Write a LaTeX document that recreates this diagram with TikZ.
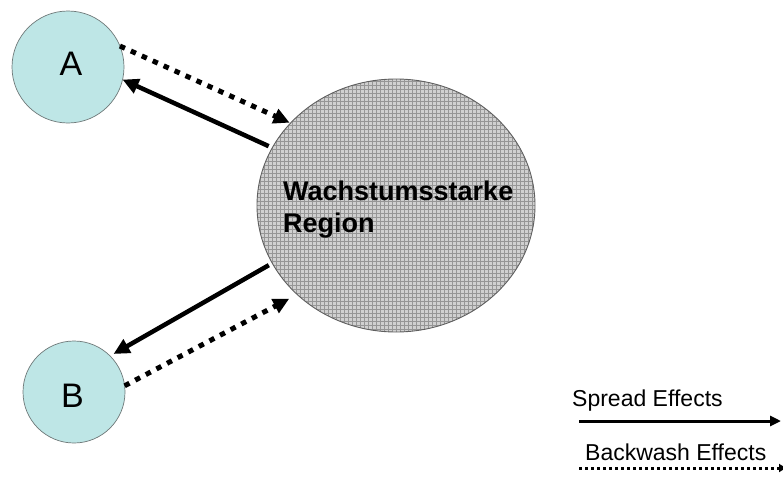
\documentclass[tikz,border=0pt]{standalone}
\usepackage{fontspec}
\setmainfont{Liberation Sans}
\usetikzlibrary{arrows.meta,shapes.geometric}

\definecolor{cityfill}{RGB}{190,230,230}
\definecolor{cityline}{RGB}{110,120,120}
\definecolor{hubfill}{RGB}{208,208,208}
\definecolor{hubgrid}{RGB}{150,150,150}
\definecolor{hubline}{RGB}{95,95,95}

\tikzset{
  city/.style={circle, draw=cityline, line width=0.7pt, fill=cityfill,
    inner sep=0pt, outer sep=0pt},
  citylabel/.style={inner sep=0pt, anchor=base, font=\fontsize{34}{40}\selectfont},
  hub/.style={ellipse, draw=hubline, line width=0.9pt, fill=hubfill,
    inner sep=0pt, outer sep=0pt,
    path picture={\draw[hubgrid, line width=0.65pt]
      (path picture bounding box.south west)
      grid[xstep=4pt, ystep=4pt] (path picture bounding box.north east);}},
  hublabel/.style={inner sep=0pt, anchor=base west,
    font=\fontsize{27}{32}\selectfont\bfseries},
  legendlabel/.style={inner sep=0pt, anchor=base west,
    font=\fontsize{23}{28}\selectfont},
  spread/.style={line width=4.5pt, -{Triangle[length=16pt,width=15pt]}},
  backwash/.style={line width=5pt, dash pattern=on 5.5pt off 6.5pt,
    -{Triangle[length=16pt,width=15pt]}},
  spreadkey/.style={line width=3pt, -{Triangle[length=11pt,width=10pt]}},
  backwashkey/.style={line width=3pt, dash pattern=on 3pt off 3pt,
    -{Triangle[length=7pt,width=8pt]}},
}

\begin{document}
\begin{tikzpicture}[x=1pt, y=-1pt]
  \useasboundingbox (0,0) rectangle (783,479);

  % regions
  \node[city, minimum size=112pt] (A) at (68,67) {};
  \node[city, minimum size=102pt] (B) at (74,392) {};
  \node[hub, minimum width=278pt, minimum height=253pt] (R) at (396,205.5) {};

  \node[citylabel] (Alabel) at (71,75) {A};
  \node[citylabel] (Blabel) at (72.5,407) {B};
  \node[hublabel] (Rline1) at (283,200) {Wachstumsstarke};
  \node[hublabel] (Rline2) at (283,232) {Region};

  % effects between the regions
  \draw[backwash, shorten >=1pt] (A.22) -- (R.142.5);
  \draw[spread, shorten <=4pt] (R.155) -- (A.-13);
  \draw[spread, shorten <=4pt, shorten >=4pt] (R.205) -- (B.45);
  \draw[backwash, shorten >=9pt] (B.7) -- (R.222);

  % legend
  \node[legendlabel] (spreadtext) at (572,406) {Spread Effects};
  \node[legendlabel] (backwashtext) at (585,460) {Backwash Effects};
  \coordinate (s1) at (579,421);
  \coordinate (s2) at (781,421);
  \coordinate (b1) at (579,468);
  \coordinate (b2) at (786,468);
  \draw[spreadkey] (s1) -- (s2);
  \draw[backwashkey] (b1) -- (b2);
\end{tikzpicture}
\end{document}
